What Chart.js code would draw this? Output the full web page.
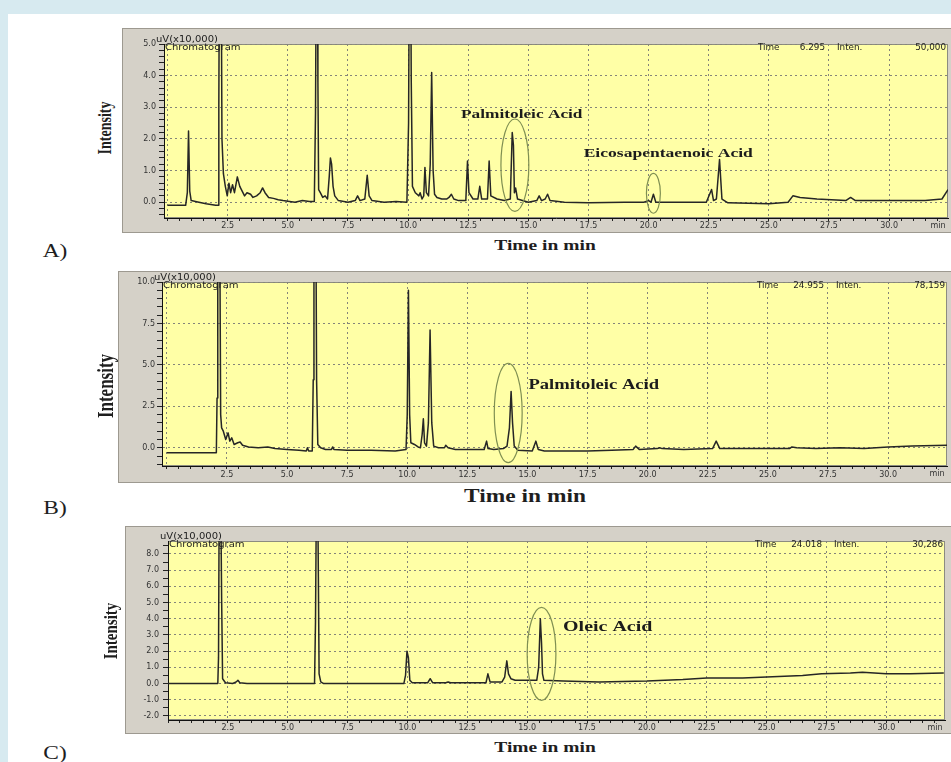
<!DOCTYPE html>
<html>
<head>
<meta charset="utf-8">
<script src="https://cdn.jsdelivr.net/npm/chart.js@4.4.0/dist/chart.umd.min.js"></script>
<style>
html, body { margin: 0; padding: 0; }
body { width: 951px; height: 762px; background: #d7eaf0; position: relative; overflow: hidden; }
#sheet { position: absolute; left: 8px; top: 14px; right: 0; bottom: 0; background: #fff; }
canvas { position: absolute; }
.lbl { position: absolute; font-family: "Liberation Serif", "Times New Roman", serif; color: #1e1e1e; white-space: nowrap; line-height: 1; }
.b { font-weight: bold; }
</style>
</head>
<body>
<div id="sheet"></div>

<canvas id="chartA" width="830" height="205" style="left:122px;top:28px"></canvas>
<canvas id="chartB" width="834" height="212" style="left:118px;top:271px"></canvas>
<canvas id="chartC" width="827" height="208" style="left:125px;top:526px"></canvas>

<div class="lbl b" style="left:106px;top:128px;font-size:14px;transform:translate(-50%,-50%) scaleX(1.3) rotate(-90deg)">Intensity</div>
<div class="lbl b" style="left:545px;top:245px;font-size:15px;transform:translate(-50%,-50%) scaleX(1.3)">Time in min</div>
<div class="lbl" style="left:55px;top:251px;font-size:18px;transform:translate(-50%,-50%) scaleX(1.3)">A)</div>

<div class="lbl b" style="left:106px;top:386px;font-size:17px;transform:translate(-50%,-50%) scaleX(1.3) rotate(-90deg)">Intensity</div>
<div class="lbl b" style="left:525px;top:496px;font-size:18px;transform:translate(-50%,-50%) scaleX(1.3)">Time in min</div>
<div class="lbl" style="left:55px;top:508px;font-size:18px;transform:translate(-50%,-50%) scaleX(1.3)">B)</div>

<div class="lbl b" style="left:111px;top:631px;font-size:15px;transform:translate(-50%,-50%) scaleX(1.3) rotate(-90deg)">Intensity</div>
<div class="lbl b" style="left:545px;top:747px;font-size:15px;transform:translate(-50%,-50%) scaleX(1.3)">Time in min</div>
<div class="lbl" style="left:55px;top:753px;font-size:18px;transform:translate(-50%,-50%) scaleX(1.3)">C)</div>

<script>
// retention time (min), intensity (uV x10,000)
const runA = [
  [0, -0.1], [0.75, -0.1], [0.82, 0.3], [0.87, 2.25], [0.92, 0.35], [0.98, 0.05], [1.3, 0.0], [1.6, -0.05],
  [2.0, -0.1], [2.1, -0.1], [2.13, 3.0], [2.16, 9.0], [2.22, 9.0], [2.26, 2.0], [2.32, 0.9], [2.4, 0.5],
  [2.48, 0.2], [2.55, 0.6], [2.62, 0.3], [2.7, 0.55], [2.78, 0.3], [2.9, 0.8], [3.0, 0.5], [3.1, 0.35],
  [3.2, 0.2], [3.3, 0.3], [3.45, 0.25], [3.55, 0.15], [3.7, 0.2], [3.85, 0.3], [3.95, 0.45], [4.05, 0.3],
  [4.2, 0.15], [4.4, 0.12], [4.6, 0.08], [4.8, 0.05], [5.0, 0.03], [5.3, 0.0], [5.6, 0.05], [5.9, 0.02],
  [6.1, 0.02], [6.15, 2.8], [6.19, 9.0], [6.22, 9.0], [6.25, 3.8], [6.28, 0.4], [6.35, 0.3], [6.45, 0.15],
  [6.55, 0.2], [6.65, 0.1], [6.72, 0.8], [6.77, 1.4], [6.82, 1.2], [6.88, 0.5], [6.95, 0.2], [7.1, 0.05],
  [7.5, 0.0], [7.8, 0.05], [7.9, 0.2], [8.0, 0.05], [8.2, 0.1], [8.3, 0.85], [8.38, 0.2], [8.5, 0.05],
  [9.0, 0.0], [9.5, 0.02], [9.95, 0.0], [10.02, 2.5], [10.06, 9.0], [10.1, 9.0], [10.13, 3.9], [10.18, 0.5],
  [10.3, 0.3], [10.45, 0.2], [10.5, 0.3], [10.58, 0.1], [10.65, 0.2], [10.7, 1.1], [10.76, 0.3], [10.85, 0.2],
  [10.92, 1.2], [10.98, 4.1], [11.04, 1.0], [11.1, 0.25], [11.2, 0.15], [11.4, 0.1], [11.6, 0.1], [11.7, 0.15],
  [11.8, 0.25], [11.9, 0.1], [12.1, 0.05], [12.4, 0.05], [12.47, 1.3], [12.53, 0.3], [12.7, 0.1], [12.9, 0.1],
  [12.98, 0.5], [13.06, 0.1], [13.3, 0.1], [13.37, 1.3], [13.44, 0.2], [13.7, 0.1], [14.0, 0.05], [14.25, 0.1],
  [14.33, 2.2], [14.38, 1.8], [14.42, 0.3], [14.47, 0.45], [14.55, 0.1], [15.0, 0.0], [15.35, 0.05], [15.45, 0.2],
  [15.55, 0.05], [15.7, 0.1], [15.8, 0.25], [15.9, 0.05], [16.5, 0.0], [17.5, -0.02], [19.0, 0.0], [19.8, 0.0],
  [20.0, 0.05], [20.1, 0.0], [20.2, 0.25], [20.3, 0.0], [21.0, 0.0], [22.4, 0.0], [22.62, 0.4], [22.7, 0.05],
  [22.82, 0.1], [22.95, 1.35], [23.05, 0.1], [23.3, -0.02], [25.0, -0.05], [25.8, 0.0], [26.0, 0.2], [26.3, 0.15],
  [27.0, 0.1], [28.2, 0.05], [28.4, 0.15], [28.6, 0.05], [30.0, 0.05], [31.5, 0.05], [32.2, 0.1], [32.45, 0.4]
];
const runB = [
  [0, -0.3], [2.0, -0.3], [2.06, -0.3], [2.09, 3.0], [2.12, 14], [2.2, 14], [2.24, 2.0], [2.28, 1.2],
  [2.35, 1.0], [2.45, 0.5], [2.55, 0.9], [2.62, 0.4], [2.7, 0.6], [2.8, 0.2], [2.95, 0.3], [3.05, 0.35],
  [3.15, 0.15], [3.4, 0.05], [3.8, 0.0], [4.2, 0.05], [4.5, -0.05], [5.0, -0.1], [5.5, -0.15], [5.8, -0.2],
  [5.85, 0.0], [5.9, -0.2], [6.05, -0.2], [6.09, 4.1], [6.12, 14], [6.2, 14], [6.23, 4.1], [6.28, 0.2],
  [6.4, 0.0], [6.6, -0.1], [6.85, -0.1], [6.9, 0.05], [6.95, -0.1], [7.5, -0.15], [8.5, -0.15], [9.5, -0.2],
  [9.95, -0.1], [10.0, 2.0], [10.05, 9.5], [10.1, 2.0], [10.15, 0.3], [10.3, 0.2], [10.45, 0.05], [10.55, 0.0],
  [10.62, 0.8], [10.67, 1.75], [10.72, 0.3], [10.8, 0.1], [10.88, 1.5], [10.95, 7.1], [11.02, 1.5], [11.1, 0.1],
  [11.3, 0.0], [11.55, 0.0], [11.6, 0.15], [11.7, 0.0], [12.0, -0.1], [12.5, -0.1], [13.2, -0.1], [13.3, 0.4],
  [13.36, -0.05], [13.6, -0.1], [14.0, -0.05], [14.15, 0.1], [14.25, 1.2], [14.32, 3.4], [14.38, 1.5], [14.45, 0.1],
  [14.6, -0.15], [15.2, -0.2], [15.35, 0.4], [15.45, -0.1], [15.7, -0.2], [16.5, -0.2], [17.5, -0.2], [18.5, -0.15],
  [19.4, -0.1], [19.5, 0.1], [19.65, -0.1], [20.4, -0.05], [20.5, 0.0], [20.6, -0.05], [21.5, -0.1], [22.7, -0.05],
  [22.85, 0.4], [23.0, -0.05], [24.0, -0.05], [25.9, -0.05], [26.0, 0.05], [26.2, 0.0], [27.0, -0.05], [28.0, 0.0],
  [29.0, -0.05], [30.0, 0.05], [31.0, 0.1], [32.5, 0.15]
];
const runC = [
  [0, 0], [2.08, 0], [2.11, 1.6], [2.14, 12], [2.2, 12], [2.24, 5.2], [2.28, 0.3], [2.4, 0.05],
  [2.7, 0], [2.85, 0.1], [2.92, 0.2], [3.0, 0.05], [3.3, 0], [5.0, 0], [6.12, 0], [6.16, 3.8],
  [6.2, 12], [6.25, 12], [6.28, 6.6], [6.31, 0.6], [6.38, 0.1], [6.5, 0], [7.0, 0], [9.85, 0],
  [9.92, 0.5], [9.98, 2.0], [10.04, 1.6], [10.1, 0.2], [10.2, 0.05], [10.85, 0.05], [10.95, 0.3], [11.05, 0.05],
  [11.6, 0.05], [11.7, 0.1], [11.8, 0.05], [13.28, 0.05], [13.36, 0.6], [13.45, 0.1], [13.95, 0.1], [14.06, 0.4],
  [14.15, 1.4], [14.22, 0.6], [14.32, 0.3], [14.5, 0.2], [15.4, 0.2], [15.48, 1.0], [15.55, 4.0], [15.6, 2.5],
  [15.64, 0.6], [15.7, 0.2], [16.5, 0.15], [18.0, 0.1], [20.0, 0.15], [21.5, 0.25], [22.5, 0.35], [24.0, 0.35],
  [25.0, 0.4], [26.5, 0.5], [27.3, 0.6], [28.5, 0.65], [29.0, 0.7], [30.0, 0.6], [31.0, 0.6], [32.4, 0.65]
];

// axis ranges and tick steps
const timeStep = 0.5, timeMajor = 2.5, timeMax = 32.45;
const yRangeA = [-0.5, 5.0], yStepA = 0.2, yMajorA = 1.0;
const yRangeB = [-1.1, 10.0], yStepB = 0.5, yMajorB = 2.5;
const yRangeC = [-2.25, 8.8], yStepC = 0.5, yMajorC = 1.0;

function isMajor(v, m) {
  const q = v / m;
  return Math.abs(q - Math.round(q)) < 1e-6;
}

function panelDecor(cfg) {
  return {
    id: 'panelDecor',
    beforeDraw(chart) {
      const { ctx, chartArea: a, width, height } = chart;
      ctx.save();
      ctx.fillStyle = '#d5d1c8';
      ctx.fillRect(0, 0, width, height);
      ctx.strokeStyle = '#9d9990';
      ctx.lineWidth = 1;
      ctx.strokeRect(0.5, 0.5, width - 1, height - 1);
      ctx.fillStyle = '#ffffa6';
      ctx.fillRect(a.left, a.top, a.right - a.left, a.bottom - a.top);
      ctx.strokeStyle = '#8c8c80';
      ctx.strokeRect(a.left + 0.5, a.top + 0.5, a.right - a.left - 1, a.bottom - a.top - 1);
      ctx.restore();
    },
    afterDraw(chart) {
      const { ctx, chartArea: a, scales: { x, y } } = chart;
      ctx.save();
      // circled peaks
      ctx.strokeStyle = '#7f8f52';
      ctx.lineWidth = 1.2;
      cfg.rings.forEach(r => {
        const cx = x.getPixelForValue(r.t), cy = y.getPixelForValue(r.v);
        const rx = Math.abs(x.getPixelForValue(r.t + r.dt) - cx);
        const ry = Math.abs(y.getPixelForValue(r.v + r.dv) - cy);
        ctx.beginPath();
        ctx.ellipse(cx, cy, rx, ry, 0, 0, Math.PI * 2);
        ctx.stroke();
      });
      // compound names
      ctx.fillStyle = '#1c1c1c';
      ctx.textBaseline = 'middle';
      cfg.names.forEach(n => {
        ctx.save();
        ctx.translate(x.getPixelForValue(n.t), y.getPixelForValue(n.v));
        ctx.scale(n.sx, 1);
        ctx.font = 'bold ' + n.size + 'px "Liberation Serif"';
        ctx.fillText(n.text, 0, 0);
        ctx.restore();
      });
      // instrument header texts
      ctx.fillStyle = '#222';
      ctx.font = '8px "DejaVu Sans"';
      const put = (txt, px, py, align, sx) => {
        ctx.save();
        ctx.translate(px, py);
        ctx.scale(sx, 1);
        ctx.textAlign = align;
        ctx.fillText(txt, 0, 0);
        ctx.restore();
      };
      put('uV(x10,000)', a.left - 8, a.top - 4, 'left', 1.25);
      put('Chromatogram', a.left + 1, a.top + 4, 'left', 1.25);
      put('Time', a.right - 190, a.top + 4, 'left', 1.1);
      put(cfg.time, a.right - 123, a.top + 4, 'right', 1.1);
      put('Inten.', a.right - 111, a.top + 4, 'left', 1.1);
      put(cfg.inten, a.right - 2, a.top + 4, 'right', 1.1);
      ctx.fillStyle = '#333';
      put('min', a.right - 10, a.bottom + 8, 'center', 1);
      ctx.restore();
    }
  };
}

function buildChart(id, run, yRange, yStep, yMajor, xMin, box, decor) {
  return new Chart(document.getElementById(id), {
    type: 'line',
    data: {
      datasets: [{
        data: run.map(p => ({ x: p[0], y: p[1] })),
        borderColor: '#262626',
        borderWidth: 1.5,
        borderJoinStyle: 'round',
        pointRadius: 0,
        tension: 0,
        fill: false
      }]
    },
    options: {
      responsive: false,
      animation: false,
      events: [],
      layout: { padding: { left: 0, top: box.top, right: box.right, bottom: 0 } },
      plugins: { legend: { display: false }, tooltip: { enabled: false } },
      scales: {
        x: {
          type: 'linear',
          min: xMin,
          max: timeMax,
          afterFit: s => { s.height = box.xHeight; },
          ticks: {
            stepSize: timeStep,
            includeBounds: false,
            autoSkip: false,
            maxRotation: 0,
            padding: box.xPad,
            color: '#333',
            font: { family: 'DejaVu Sans', size: 8 },
            callback: v => (v > 0.1 && isMajor(v, timeMajor)) ? v.toFixed(1) : ''
          },
          grid: {
            color: c => isMajor(c.tick.value, timeMajor) ? '#85857a' : 'rgba(0,0,0,0)',
            tickColor: '#222',
            tickLength: 3
          },
          border: { display: true, color: '#111', width: 1, dash: [2, 3] }
        },
        y: {
          min: yRange[0],
          max: yRange[1],
          afterFit: s => { s.width = box.yWidth; },
          ticks: {
            stepSize: yStep,
            includeBounds: false,
            autoSkip: false,
            padding: box.yPad,
            color: '#333',
            font: { family: 'DejaVu Sans', size: 8 },
            callback: v => isMajor(v, yMajor) ? v.toFixed(1) : ''
          },
          grid: {
            color: c => isMajor(c.tick.value, yMajor) ? '#85857a' : 'rgba(0,0,0,0)',
            tickColor: '#222',
            tickLength: 5
          },
          border: { display: true, color: '#111', width: 1, dash: [2, 3] }
        }
      }
    },
    plugins: [decor]
  });
}

buildChart('chartA', runA, yRangeA, yStepA, yMajorA, -0.15,
  { top: 16, right: 4, xHeight: 15, yWidth: 42, xPad: 0, yPad: 3 },
  panelDecor({
    rings: [{ t: 14.44, v: 1.17, dt: 0.58, dv: 1.46 }, { t: 20.2, v: 0.28, dt: 0.29, dv: 0.63 }],
    names: [{ text: 'Palmitoleic Acid', t: 12.2, v: 2.78, size: 13, sx: 1.33 },
            { text: 'Eicosapentaenoic Acid', t: 17.3, v: 1.55, size: 13.5, sx: 1.3 }],
    time: '6.295', inten: '50,000'
  }));

buildChart('chartB', runB, yRangeB, yStepB, yMajorB, -0.2,
  { top: 11, right: 5, xHeight: 17, yWidth: 44, xPad: 1, yPad: 2 },
  panelDecor({
    rings: [{ t: 14.2, v: 2.1, dt: 0.58, dv: 3.0 }],
    names: [{ text: 'Palmitoleic Acid', t: 15.04, v: 3.8, size: 15.5, sx: 1.2 }],
    time: '24.955', inten: '78,159'
  }));

buildChart('chartC', runC, yRangeC, yStepC, yMajorC, 0,
  { top: 15, right: 7, xHeight: 14, yWidth: 43, xPad: 0, yPad: 4 },
  panelDecor({
    rings: [{ t: 15.6, v: 1.83, dt: 0.6, dv: 2.87 }],
    names: [{ text: 'Oleic Acid', t: 16.5, v: 3.48, size: 15, sx: 1.33 }],
    time: '24.018', inten: '30,286'
  }));
</script>
</body>
</html>
